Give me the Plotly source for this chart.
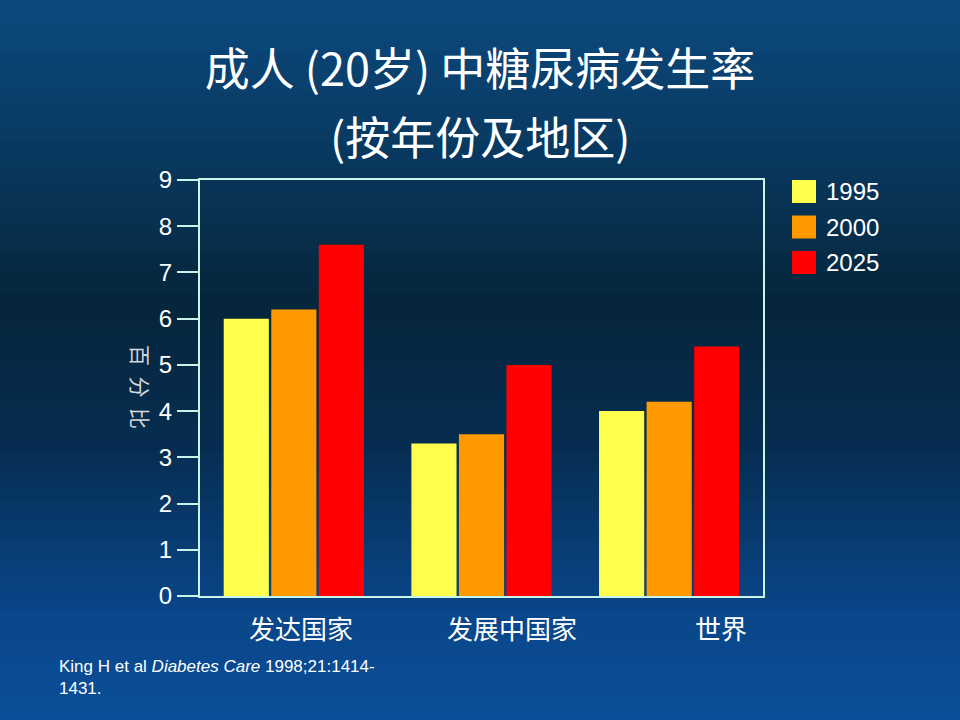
import plotly.graph_objects as go

# ── data ──────────────────────────────────────────────────────────────────────
regions = ['发达国家', '发展中国家', '世界']
years = ['1995', '2000', '2025']
rate_1995 = [6.0, 3.3, 4.0]
rate_2000 = [6.2, 3.5, 4.2]
rate_2025 = [7.6, 5.0, 5.4]
y_ticks = [0, 1, 2, 3, 4, 5, 6, 7, 8, 9]

COLORS = ['#ffff4d', '#ff9900', '#ff0000']
AXIS = '#c8f5e6'
TEXT = '#ffffff'
FONT_CN = 'Noto Sans CJK SC'
FONT_EN = 'Liberation Sans, Arial'

W, H = 960, 720
L, R, T, B = 200, 197, 180, 124


def px(x):
    return (x - L) / (W - L - R)


def py(y):
    return (H - B - y) / (H - T - B)


fig = go.Figure()
for name, vals, col in zip(years, [rate_1995, rate_2000, rate_2025], COLORS):
    fig.add_trace(go.Bar(
        x=regions, y=vals, name=name,
        marker=dict(color=col, line=dict(width=0)),
        showlegend=False
    ))

# background: vertical blue gradient in bands
stops = [(0, (11, 80, 152)), (0.15, (10, 70, 138)), (0.38, (7, 46, 82)),
         (0.58, (6, 38, 60)), (0.8, (9, 58, 98)), (1, (12, 74, 126))]


def grad(t):
    for (t0, c0), (t1, c1) in zip(stops, stops[1:]):
        if t0 <= t <= t1:
            f = (t - t0) / (t1 - t0)
            return 'rgb(%d,%d,%d)' % tuple(int(a + (b - a) * f) for a, b in zip(c0, c1))
    return 'rgb(%d,%d,%d)' % stops[-1][1]


shapes = []
n = 72
for i in range(n):
    y0 = H - i * H / n + 1
    y1 = H - (i + 1) * H / n - 1
    shapes.append(dict(type='rect', xref='paper', yref='paper', layer='below',
                       x0=px(0), x1=px(W), y0=py(y0), y1=py(y1),
                       fillcolor=grad((i + 0.5) / n), line=dict(width=0)))

annotations = []
# custom legend: big square swatches
for i, (name, col) in enumerate(zip(years, COLORS)):
    top = 180 + i * 35.5
    shapes.append(dict(type='rect', xref='paper', yref='paper',
                       x0=px(792), x1=px(816), y0=py(top), y1=py(top + 23),
                       fillcolor=col, line=dict(width=0)))
    annotations.append(dict(text=name, xref='paper', yref='paper',
                            x=px(824), y=py(top + 11.5), xanchor='left', yanchor='middle',
                            showarrow=False, font=dict(family=FONT_EN, size=24, color=TEXT)))

# category labels (shifted like the original)
for reg, shift in zip(regions, [7, 30, 52]):
    annotations.append(dict(text=reg, xref='x', yref='paper', x=reg, y=py(627),
                            xshift=shift, yanchor='middle', showarrow=False,
                            font=dict(family=FONT_CN, size=26, color=TEXT)))

# second title line
annotations.append(dict(text='(按年份及地区)', xref='paper', yref='paper',
                        x=px(480), y=py(136), yanchor='middle', showarrow=False,
                        font=dict(family=FONT_CN, size=45, color=TEXT)))

# y axis title
annotations.append(dict(text='百\u2002分\u2002比', xref='paper', yref='paper',
                        x=px(124), y=py(387), textangle=90, showarrow=False,
                        font=dict(family=FONT_CN, size=21, color='#d8d8d8')))

# citation
annotations.append(dict(text='King H et al <i>Diabetes Care</i> 1998;21:1414-<br>1431.',
                        xref='paper', yref='paper', x=px(57), y=py(677),
                        xanchor='left', yanchor='middle', align='left', showarrow=False,
                        font=dict(family=FONT_EN, size=17, color=TEXT)))

fig.update_layout(
    width=W, height=H,
    margin=dict(l=L, r=R, t=T, b=B),
    paper_bgcolor='#072b45',
    plot_bgcolor='rgba(0,0,0,0)',
    barmode='group', bargap=0.24, bargroupgap=0.05,
    title=dict(text='成人 (20岁) 中糖尿病发生率',
               x=0.5, xanchor='center', y=1 - 70 / H, yanchor='middle',
               font=dict(family=FONT_CN, size=45, color=TEXT)),
    shapes=shapes,
    annotations=annotations,
    showlegend=False,
)
fig.update_xaxes(showticklabels=False, ticks='', showgrid=False, zeroline=False,
                 showline=True, linecolor=AXIS, linewidth=2, mirror=True)
fig.update_yaxes(range=[0, 9], tickvals=y_ticks, ticks='outside', ticklen=21, tickwidth=2,
                 tickcolor=AXIS, showgrid=False, zeroline=False,
                 showline=True, linecolor=AXIS, linewidth=2, mirror=True,
                 tickfont=dict(family=FONT_EN, size=24, color=TEXT))

fig.write_html('out.html', config={'displayModeBar': False},
               post_script="document.body.style.margin='0';")
